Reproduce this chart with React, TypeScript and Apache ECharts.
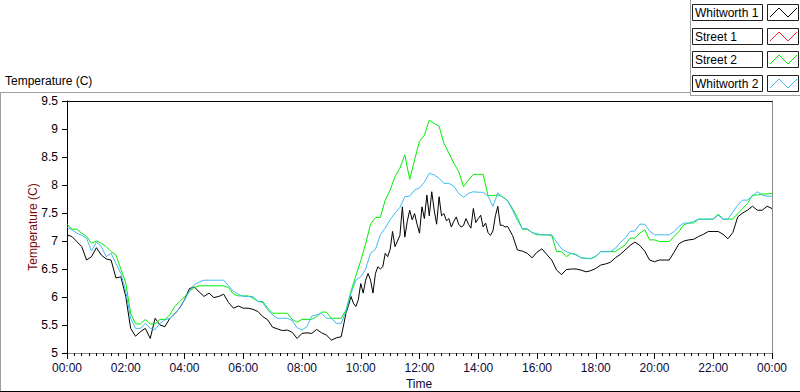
import React, { useEffect, useRef } from "react";
import * as echarts from "echarts";

// ---- Data ----
const SERIES_NAMES = ["Whitworth 1", "Street 1", "Street 2", "Whitworth 2"];
const SERIES_COLORS = ["#000000", "#ff2020", "#00ee00", "#40b8f4"];

const TIME_STEP_MIN = 10; // minutes between samples of Street 2 / Whitworth 2

// Whitworth 1: [minute of day, temperature]
const whitworth1: [number, number][] = [
  [0, 7.11], [10, 7.08], [20, 6.99], [30, 6.9], [40, 6.66], [50, 6.72], [60, 6.88], [70, 6.75], [80, 6.68], [90, 6.66],
  [100, 6.34], [110, 6.36], [120, 6.01], [130, 5.44], [140, 5.3], [150, 5.38], [160, 5.44], [170, 5.26], [180, 5.62], [190, 5.5],
  [200, 5.47], [210, 5.62], [220, 5.7], [230, 5.8], [240, 5.95], [250, 6.15], [260, 6.18], [270, 6.09], [280, 6.01], [290, 6.07],
  [300, 5.99], [310, 6.01], [320, 6.05], [330, 5.9], [340, 5.8], [350, 5.84], [360, 5.8], [370, 5.8], [380, 5.78], [390, 5.74],
  [400, 5.65], [410, 5.59], [420, 5.46], [430, 5.43], [440, 5.4], [450, 5.41], [460, 5.37], [470, 5.26], [480, 5.35], [490, 5.36],
  [500, 5.35], [510, 5.42], [520, 5.36], [530, 5.32], [540, 5.23], [550, 5.27], [560, 5.29], [565, 5.5],
  [570, 5.72], [575, 5.85], [580, 6.01], [585, 5.89], [590, 5.83], [595, 5.95], [600, 6.24], [605, 6.07], [610, 6.3], [615, 6.42],
  [620, 6.3], [625, 6.07], [630, 6.42], [635, 6.54], [640, 6.5], [645, 6.54], [650, 6.78], [655, 6.72], [660, 6.85], [665, 7.17],
  [670, 6.9], [675, 7.0], [680, 7.1], [685, 7.61], [690, 7.07], [695, 7.35], [700, 7.55], [705, 7.38], [710, 7.49], [715, 7.3],
  [720, 7.14], [725, 7.61], [730, 7.4], [735, 7.82], [740, 7.45], [745, 7.88], [750, 7.55], [755, 7.3], [760, 7.79], [765, 7.45],
  [770, 7.49], [775, 7.36], [780, 7.4], [785, 7.25], [790, 7.35], [795, 7.43], [800, 7.3], [805, 7.25], [810, 7.28], [815, 7.4],
  [820, 7.3], [825, 7.23], [830, 7.58], [835, 7.33], [840, 7.4], [845, 7.46], [850, 7.25], [855, 7.32], [860, 7.15], [865, 7.1],
  [870, 7.18], [875, 7.45], [880, 7.62], [885, 7.28], [890, 7.28], [895, 7.25], [900, 7.26],
  [910, 7.1], [920, 6.84], [930, 6.82], [940, 6.78], [950, 6.7], [960, 6.8], [970, 6.86], [980, 6.76], [990, 6.66], [1000, 6.48],
  [1010, 6.4], [1020, 6.49], [1030, 6.5], [1040, 6.5], [1050, 6.48], [1060, 6.45], [1070, 6.47], [1080, 6.51], [1090, 6.57], [1100, 6.59],
  [1110, 6.62], [1120, 6.7], [1130, 6.76], [1140, 6.84], [1150, 6.92], [1160, 6.98], [1170, 6.92], [1180, 6.82], [1190, 6.66], [1200, 6.63],
  [1210, 6.66], [1220, 6.66], [1230, 6.66], [1240, 6.8], [1250, 6.95], [1260, 7.0], [1270, 7.02], [1280, 7.03], [1290, 7.08], [1300, 7.12],
  [1310, 7.17], [1320, 7.17], [1330, 7.17], [1340, 7.12], [1350, 7.04], [1360, 7.15], [1370, 7.43], [1380, 7.5], [1390, 7.55], [1400, 7.62],
  [1410, 7.55], [1420, 7.55], [1430, 7.62], [1440, 7.58],
];

// Street 1: no visible data in the reference
const street1: number[] = [];

// Street 2: every 10 minutes from 00:00 to 24:00
const street2: number[] = [
  7.3, 7.21, 7.21, 7.14, 7.08, 6.96, 7.0, 6.96, 6.9, 6.81, 6.75, 6.5,
  6.25, 5.71, 5.52, 5.52, 5.6, 5.52, 5.52, 5.6, 5.6, 5.68, 5.83, 5.92,
  6.0, 6.1, 6.17, 6.2, 6.2, 6.2, 6.2, 6.2, 6.2, 6.17, 6.05, 6.02,
  6.02, 6.02, 5.98, 5.92, 5.92, 5.8, 5.71, 5.71, 5.71, 5.71, 5.6, 5.55,
  5.6, 5.6, 5.6, 5.65, 5.73, 5.73, 5.62, 5.62, 5.62, 5.77, 6.1, 6.38,
  6.65, 6.95, 7.3, 7.42, 7.42, 7.73, 7.91, 8.15, 8.3, 8.54, 8.1, 8.45,
  8.78, 8.89, 9.16, 9.1, 9.05, 8.74, 8.57, 8.39, 8.24, 7.97, 8.09, 8.19,
  8.19, 8.19, 7.81, 7.81, 7.82, 7.79, 7.72, 7.58, 7.42, 7.21, 7.21, 7.15,
  7.11, 7.11, 7.11, 7.1, 6.81, 6.81, 6.72, 6.78, 6.76, 6.7, 6.69, 6.69,
  6.72, 6.81, 6.81, 6.81, 6.81, 6.87, 6.93, 7.05, 7.05, 7.14, 7.2, 7.02,
  7.02, 6.99, 6.99, 6.99, 7.08, 7.17, 7.29, 7.32, 7.32, 7.39, 7.39, 7.39,
  7.39, 7.48, 7.39, 7.39, 7.39, 7.49, 7.58, 7.67, 7.82, 7.82, 7.84, 7.84, 7.85,
];

// Whitworth 2: every 10 minutes from 00:00 to 24:00
const whitworth2: number[] = [
  7.25, 7.2, 7.14, 7.1, 7.05, 6.82, 6.98, 6.9, 6.72, 6.78, 6.6, 6.42,
  6.1, 5.62, 5.44, 5.44, 5.53, 5.44, 5.42, 5.53, 5.59, 5.62, 5.71, 5.8,
  5.95, 6.1, 6.22, 6.27, 6.3, 6.3, 6.3, 6.3, 6.3, 6.2, 6.1, 6.05,
  6.01, 6.01, 6.01, 5.92, 5.9, 5.77, 5.68, 5.62, 5.62, 5.62, 5.58, 5.45,
  5.41, 5.47, 5.66, 5.68, 5.71, 5.62, 5.62, 5.53, 5.53, 5.75, 6.06, 6.3,
  6.36, 6.5, 6.78, 6.85, 7.11, 7.23, 7.38, 7.5, 7.6, 7.79, 7.8, 7.91,
  7.95, 8.05, 8.21, 8.18, 8.12, 8.03, 8.03, 7.98, 7.85, 7.78, 7.85, 7.88,
  7.87, 7.87, 7.8, 7.62, 7.86, 7.78, 7.72, 7.55, 7.37, 7.22, 7.22, 7.15,
  7.13, 7.11, 7.11, 7.11, 6.98, 6.86, 6.81, 6.78, 6.75, 6.7, 6.69, 6.68,
  6.73, 6.81, 6.81, 6.81, 6.87, 6.97, 7.05, 7.17, 7.18, 7.3, 7.3, 7.18,
  7.11, 7.11, 7.11, 7.11, 7.17, 7.26, 7.32, 7.32, 7.35, 7.39, 7.39, 7.39,
  7.39, 7.46, 7.39, 7.39, 7.52, 7.64, 7.73, 7.73, 7.8, 7.88, 7.82, 7.8, 7.8,
];

const X_MIN = 0;
const X_MAX = 1440;
const X_INTERVAL = 120;
const Y_MIN = 5;
const Y_MAX = 9.5;
const Y_INTERVAL = 0.5;

const FONT = "Liberation Sans, Arial, sans-serif";

function fmtTime(v: number): string {
  const h = Math.floor(v / 60) % 24;
  return String(h).padStart(2, "0") + ":00";
}

function toPairs(values: number[]): [number, number][] {
  return values.map((v, i) => [i * TIME_STEP_MIN, v]);
}

export default function App() {
  const ref = useRef<HTMLDivElement>(null);

  useEffect(() => {
    if (!ref.current) return;
    const chart = echarts.init(ref.current, null, { renderer: "svg" });

    const legendGraphics: any[] = [];
    SERIES_NAMES.forEach((name, i) => {
      const y0 = Math.round(4 + i * 23.6);
      legendGraphics.push({
        type: "rect",
        shape: { x: 692.5, y: y0 + 0.5, width: 70, height: 16 },
        style: { fill: "#fff", stroke: "#202020", lineWidth: 1 },
      });
      legendGraphics.push({
        type: "text",
        x: 695,
        y: y0 + 9,
        style: {
          text: name,
          fill: "#000",
          font: `12px ${FONT}`,
          verticalAlign: "middle",
        },
      });
      legendGraphics.push({
        type: "rect",
        shape: { x: 767.5, y: y0 + 0.5, width: 31, height: 16 },
        style: { fill: "#fff", stroke: "#202020", lineWidth: 1 },
      });
      const yb = y0 + 13;
      const yt = y0 + 4;
      legendGraphics.push({
        type: "polyline",
        shape: { points: [[770, yb], [779, yt], [788, yb], [797, yt]] },
        style: { stroke: SERIES_COLORS[i], lineWidth: 1, fill: "none" },
      });
    });

    const lineSeries = (idx: number, data: [number, number][]) => ({
      name: SERIES_NAMES[idx],
      type: "line",
      data,
      showSymbol: false,
      lineStyle: { color: SERIES_COLORS[idx], width: 1 },
      itemStyle: { color: SERIES_COLORS[idx] },
    });

    const option: any = {
      animation: false,
      backgroundColor: "#ffffff",
      textStyle: { fontFamily: FONT },
      grid: { left: 67, right: 28, top: 101, bottom: 39, containLabel: false },
      xAxis: [
        {
          type: "value",
          min: X_MIN,
          max: X_MAX,
          interval: X_INTERVAL,
          axisLine: { show: true, lineStyle: { color: "#8a8a8a", width: 1 } },
          axisTick: { show: true, length: 6, lineStyle: { color: "#000" } },
          minorTick: { show: true, splitNumber: 8, length: 3, lineStyle: { color: "#000" } },
          axisLabel: {
            formatter: (v: number) => fmtTime(v),
            color: "#0a0a3a",
            fontSize: 12,
            fontFamily: FONT,
            margin: 9,
          },
          splitLine: { show: false },
        },
        {
          type: "value",
          position: "top",
          min: X_MIN,
          max: X_MAX,
          axisLine: { show: true, onZero: false, lineStyle: { color: "#000", width: 1 } },
          axisTick: { show: false },
          axisLabel: { show: false },
          splitLine: { show: false },
        },
      ],
      yAxis: [
        {
          type: "value",
          min: Y_MIN,
          max: Y_MAX,
          interval: Y_INTERVAL,
          axisLine: { show: true, onZero: false, lineStyle: { color: "#000", width: 1 } },
          axisTick: { show: true, length: 5, lineStyle: { color: "#000" } },
          axisLabel: { color: "#000", fontSize: 12, fontFamily: FONT, margin: 9 },
          splitLine: { show: false },
        },
        {
          type: "value",
          position: "right",
          min: Y_MIN,
          max: Y_MAX,
          axisLine: { show: true, onZero: false, lineStyle: { color: "#8a8a8a", width: 1 } },
          axisTick: { show: false },
          axisLabel: { show: false },
          splitLine: { show: false },
        },
      ],
      series: [
        lineSeries(0, whitworth1),
        lineSeries(1, toPairs(street1)),
        lineSeries(2, toPairs(street2)),
        lineSeries(3, toPairs(whitworth2)),
      ],
      graphic: [
        // frame lines
        { type: "line", shape: { x1: 0, y1: 92.5, x2: 690, y2: 92.5 }, style: { stroke: "#a0a0a0", lineWidth: 1 } },
        { type: "line", shape: { x1: 690.5, y1: 0, x2: 690.5, y2: 95 }, style: { stroke: "#a0a0a0", lineWidth: 1 } },
        { type: "line", shape: { x1: 690, y1: 95.5, x2: 800, y2: 95.5 }, style: { stroke: "#a0a0a0", lineWidth: 1 } },
        { type: "line", shape: { x1: 0.5, y1: 92, x2: 0.5, y2: 392 }, style: { stroke: "#a0a0a0", lineWidth: 1 } },
        { type: "line", shape: { x1: 0, y1: 391.5, x2: 800, y2: 391.5 }, style: { stroke: "#000", lineWidth: 1 } },
        // titles
        {
          type: "text",
          x: 5,
          y: 81,
          style: { text: "Temperature (C)", fill: "#000", font: `12px ${FONT}`, verticalAlign: "middle" },
        },
        {
          type: "text",
          x: 33,
          y: 227,
          rotation: Math.PI / 2,
          style: {
            text: "Temperature (C)",
            fill: "#7a0a0a",
            font: `12px ${FONT}`,
            align: "center",
            verticalAlign: "middle",
          },
        },
        {
          type: "text",
          x: 419,
          y: 384,
          style: { text: "Time", fill: "#0a0a3a", font: `12px ${FONT}`, align: "center", verticalAlign: "middle" },
        },
        ...legendGraphics,
      ],
    };

    chart.setOption(option);
    return () => chart.dispose();
  }, []);

  return (
    <div
      ref={ref}
      style={{ position: "fixed", left: 0, top: 0, width: 800, height: 392, background: "#fff" }}
    />
  );
}
